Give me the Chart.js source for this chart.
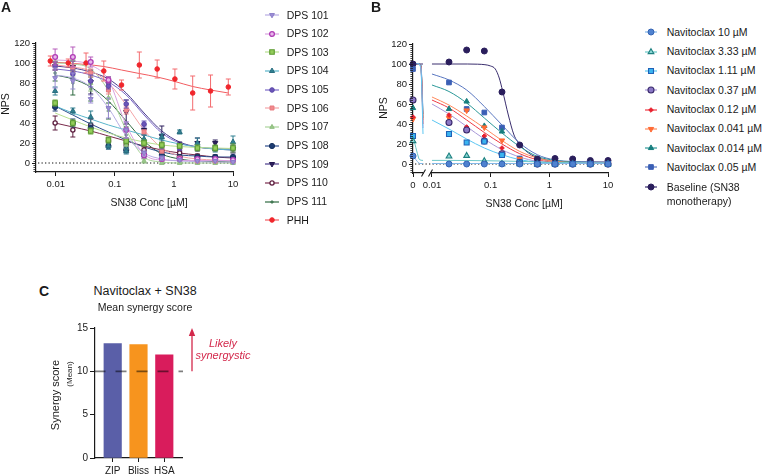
<!DOCTYPE html>
<html>
<head>
<meta charset="utf-8">
<title>SN38 / Navitoclax response</title>
<script src="https://cdn.jsdelivr.net/npm/chart.js@4.4.1/dist/chart.umd.min.js"></script>
<style>
  html, body { margin:0; padding:0; background:#fff; }
  body { width:764px; height:474px; overflow:hidden; position:relative; font-family:"Liberation Sans", Arial, Helvetica, sans-serif; color:#1a1a1a; }
  canvas.chart { position:absolute; }
  .t { position:absolute; white-space:nowrap; transform:translate(-50%,-50%); line-height:1; }
  .rot { transform:translate(-50%,-50%) rotate(-90deg); }
  .leg { position:absolute; white-space:nowrap; font-size:10.5px; line-height:13px; }
  .ico { position:absolute; }
</style>
</head>
<body>
<canvas id="chartA" class="chart" width="250" height="200" style="left:0;top:0;width:250px;height:200px"></canvas>
<canvas id="chartB" class="chart" width="260" height="200" style="left:370px;top:0;width:260px;height:200px"></canvas>
<canvas id="chartC" class="chart" width="300" height="190" style="left:0;top:300px;width:300px;height:190px"></canvas>

<div class="t" style="left:6px;top:7px;font-size:14px;font-weight:bold">A</div>
<div class="t" style="left:376px;top:7px;font-size:14px;font-weight:bold">B</div>
<div class="t" style="left:44px;top:291px;font-size:14px;font-weight:bold">C</div>

<div class="t rot" style="left:5px;top:104px;font-size:10.5px">NPS</div>
<div class="t" style="left:149px;top:202px;font-size:10.5px">SN38 Conc [µM]</div>
<div class="t rot" style="left:383px;top:108px;font-size:10.5px">NPS</div>
<div class="t" style="left:524px;top:203px;font-size:10.5px">SN38 Conc [µM]</div>

<div class="t" style="left:145px;top:291px;font-size:12.5px">Navitoclax + SN38</div>
<div class="t" style="left:145px;top:307px;font-size:10.5px">Mean synergy score</div>
<div class="t rot" style="left:55px;top:395px;font-size:11px">Synergy score</div>
<div class="t rot" style="left:70px;top:374px;font-size:8px">(Mean)</div>
<div class="t" style="left:223px;top:343px;font-size:11px;font-style:italic;color:#d3284b">Likely</div>
<div class="t" style="left:223px;top:355px;font-size:11px;font-style:italic;color:#d3284b">synergystic</div>

<div id="legendA"></div>
<div id="legendB"></div>

<script>
// ===================== DATA =====================
// ---- Panel A : SN38 dose response per sample ----
const aConc   = [0.00977, 0.0195, 0.0391, 0.0781, 0.156, 0.3125, 0.625, 1.25, 2.5, 5, 10];
const phhConc = [0.0081, 0.0163, 0.0326, 0.0651, 0.130, 0.260, 0.521, 1.04, 2.08, 4.17, 8.33];
const aNames  = ['DPS 101','DPS 102','DPS 103','DPS 104','DPS 105','DPS 106','DPS 107','DPS 108','DPS 109','DPS 110','DPS 111','PHH'];

const dps101    = [85, 82, 64, 55, 33, 10, 5, 3, 2, 2, 1];
const dps101Sd  = [10, 8, 4, 10, 8, 3, 2, 1, 1, 1, 1];
const dps101Fit = [88, 85, 76, 55, 27, 10, 4, 2, 1.5, 1, 1];

const dps102    = [106, 106, 101, 83, 33, 8, 4, 4, 4, 4, 3];
const dps102Sd  = [8, 10, 5, 3, 8, 3, 2, 1, 1, 1, 1];
const dps102Fit = [103, 102, 98, 83, 38, 9, 3, 2.5, 2.5, 2.5, 2.5];

const dps103    = [60, 40, 32, 23, 22, 20, 18, 17, 15, 15, 15];
const dps103Sd  = [3, 3, 3, 3, 3, 3, 3, 2, 3, 3, 4];
const dps103Fit = [50, 43, 36, 30, 25, 21, 18, 16.5, 15.5, 15, 14.5];

const dps104    = [72, 52, 46, 17, 12, 24, 26, 31, 20, 14, 21];
const dps104Sd  = [4, 3, 6, 3, 3, 4, 3, 2, 5, 3, 6];
const dps104Fit = [57, 50, 44, 38, 33, 28, 23, 19, 16, 14, 13];

const dps105    = [97, 89, 82, 77, 59, 39, 17, 15, 14, 14, 14];
const dps105Sd  = [4, 4, 6, 3, 4, 3, 3, 2, 2, 2, 3];
const dps105Fit = [94, 92, 88, 81, 68, 48, 30, 20, 16, 14.5, 14];

const dps106    = [97, 95, 90, 73, 53, 31, 12, 5, 2, 2, 2];
const dps106Sd  = [4, 4, 4, 4, 4, 2, 2, 1, 1, 1, 1];
const dps106Fit = [98, 96, 92, 80, 58, 33, 15, 7, 4, 3, 2];

const dps107    = [99, 95, 80, 65, 18, 2, 0, 0, 0, 0, 0];
const dps107Sd  = [3, 8, 8, 10, 4, 2, 1, 1, 1, 1, 1];
const dps107Fit = [100, 99, 94, 72, 33, 6, 1, 0, 0, 0, 0];

const dps108    = [56, 40, 35, 17, 13, 8, 8, 6, 6, 6, 6];
const dps108Sd  = [4, 4, 3, 3, 3, 3, 3, 2, 2, 2, 2];
const dps108Fit = [57, 48, 39, 31, 23, 16, 11, 8, 7, 6, 6];

const dps109    = [97, 96, 81, 79, 51, 33, 27, 17, 20, 20, 14];
const dps109Sd  = [4, 6, 12, 7, 12, 5, 10, 4, 5, 3, 4];
const dps109Fit = [97, 95, 91, 84, 70, 50, 32, 21, 16, 14, 13];

const dps110    = [40, 33, 38, 22, 18, 13, 11, 10, 7, 6, 4];
const dps110Sd  = [7, 7, 6, 3, 3, 3, 3, 2, 2, 2, 2];
const dps110Fit = [40, 36, 32, 27, 22, 17, 13, 10, 8, 6, 5];

const dps111    = [90, 80, 74, 52, 28, 10, 4, 3, 2, 2, 1];
const dps111Sd  = [8, 12, 12, 8, 8, 3, 2, 1, 1, 1, 1];
const dps111Fit = [88, 84, 76, 62, 42, 22, 9, 4, 2, 1.5, 1];

const phh    = [102, 100, 100, 92, 78, 98, 94, 84, 70, 72, 76];
const phhSd  = [5, 4, 10, 10, 5, 13, 9, 10, 17, 16, 8];
const phhFit = [101, 100, 98.5, 96.5, 93, 89.5, 86, 81.5, 76.5, 73, 70];

// ---- Panel B : SN38 + navitoclax ----
const bConc      = [0.0195, 0.039, 0.078, 0.156, 0.3125, 0.625, 1.25, 2.5, 5, 10];
const bFitConc   = [0.01, 0.0195, 0.039, 0.078, 0.156, 0.3125, 0.625, 1.25, 2.5, 5, 10];
const baseFitConc= [0.01, 0.02, 0.04, 0.06, 0.08, 0.1, 0.12, 0.14, 0.16, 0.2, 0.25, 0.32, 0.4, 0.5, 0.65, 1.25, 2.5, 5, 10];
const zeroSegX   = [0, 0.6, 0.8, 1];      // positions along the "0" axis segment
const bNames = ['Navitoclax 10 µM','Navitoclax 3.33 µM','Navitoclax 1.11 µM','Navitoclax 0.37 µM','Navitoclax 0.12 µM','Navitoclax 0.041 µM','Navitoclax 0.014 µM','Navitoclax 0.05 µM','Baseline (SN38|monotherapy)'];

const nav10Zero = 8,   nav10 = [0, 0, 0, 0, 0, 0, 0, 0, 0, 0];
const nav10Fit = [0.5, 0.5, 0.5, 0.5, 0.5, 0.5, 0.5, 0.5, 0.5, 0.5, 0.5], nav10ZeroFit = [8, 0.8, 0.5, 0.5];
const nav333Zero = 23, nav333 = [7.7, 8.3, 3, 0, 0, 0, 0, 0, 0, 0];
const nav333Fit = [3.6, 3.6, 3.5, 3.3, 3, 2.6, 2.1, 1.6, 1.2, 1, 1], nav333ZeroFit = [28, 5, 3.8, 3.6];
const nav111Zero = 28, nav111 = [30, 21.5, 22.5, 9, 1.5, 0, 0, 0, 0, 0];
const nav111Fit = [44, 35, 25, 16, 9.3, 4.3, 2, 1.2, 1, 1, 1], nav111ZeroFit = [100, 100, 94, 30];
const nav037Zero = 64, nav037 = [41.5, 34, 23, 10.3, 1.5, 0, 0, 0, 0, 0];
const nav037Fit = [60, 50, 37.5, 25, 14.3, 7, 2.6, 1.2, 1, 1, 1], nav037ZeroFit = [100, 100, 96, 36];
const nav012Zero = 47, nav012 = [49, 37, 28, 16, 0.5, 0, 0, 0, 0, 0];
const nav012Fit = [64, 56, 44, 31.5, 20, 10.3, 4.3, 1.6, 1.2, 1, 1], nav012ZeroFit = [100, 100, 97, 40];
const nav0041Zero = 45, nav0041 = [46, 53.5, 36.5, 23.5, 5, 0, 0, 0, 0, 0];
const nav0041Fit = [67, 59, 48, 36, 23.5, 12.6, 6, 2.6, 1.5, 1.2, 1], nav0041ZeroFit = [100, 100, 97, 44];
const nav0014Zero = 56, nav0014 = [55, 62.5, 38, 32.5, 4.3, 0.3, 0.3, 0.3, 0.3, 0.3];
const nav0014Fit = [79, 72.5, 61, 46, 31, 17.5, 7.6, 3.6, 2, 1.5, 1.2], nav0014ZeroFit = [100, 100, 98, 46];
const nav005Zero = 95, nav005 = [81.5, 55, 51.5, 36.5, 5.5, 0, 0, 0, 0, 0];
const nav005Fit = [90, 84, 74, 57.5, 39, 21, 9.3, 4, 2.5, 2, 1.5], nav005ZeroFit = [100, 100, 99, 50];
const baseZero = 100,  baseline = [102, 114, 113, 72, 19, 5, 5.5, 5, 3.5, 3.5];
const baseFit = [100, 100, 100, 99.8, 99.3, 98, 95, 86, 73, 49, 29, 19, 13, 9, 6, 2.6, 2, 2, 2], baseZeroFit = [100, 100, 100, 100];

// ---- Panel C : mean synergy scores ----
const cMethods = ['ZIP', 'Bliss', 'HSA'];
const cScores  = [13.2, 13.1, 11.9];
const cThreshold = 10;

// ---- tick labels ----
const npsTicks = [0, 20, 40, 60, 80, 100, 120];
const logTicks = [0.01, 0.1, 1, 10];
const logTickLabels = ['0.01', '0.1', '1', '10'];
const zeroTickLabel = '0';
const cYTicks = [0, 5, 10, 15];

// ===================== STYLES =====================
const aStyles = [
  {ps:'triangle', rot:180, bg:'#9d8fd6', bd:'#8a7cc8', bw:1, r:2.8, line:'#b7ace3', err:'#9d8fd6'},
  {ps:'circle', bg:'#e8b8ec', bd:'#b03cb5', bw:1.3, r:2.4, line:'#d9a2df', err:'#b65cbb'},
  {ps:'rect', bg:'#93cc5a', bd:'#5c9a30', bw:1.1, r:3.2, line:'#b8e090', err:'#6aa63c'},
  {ps:'triangle', bg:'#2f7f90', bd:'#2a6e80', bw:1, r:3, line:'#5ab6cc', err:'#2f7f90'},
  {ps:'circle', bg:'#6b55b8', bd:'#5a46a8', bw:1, r:2.3, line:'#7b68c8', err:'#6b55b8'},
  {ps:'rect', bg:'#f08a8e', bd:'#e87a7e', bw:1, r:2.8, line:'#f3a3a6', err:'#f08a8e'},
  {ps:'triangle', bg:'#9cc98c', bd:'#8cbc7c', bw:1, r:2.6, line:'#a9d49a', err:'#8cbc7c'},
  {ps:'circle', bg:'#1d3c72', bd:'#14305e', bw:1, r:2.6, line:'#2c4c8c', err:'#1d3c72'},
  {ps:'triangle', rot:180, bg:'#2c1f5c', bd:'#241850', bw:1, r:3, line:'#4a3c8c', err:'#2c1f5c'},
  {ps:'circle', bg:'#ffffff', bd:'#5c1d3e', bw:1.3, r:2.1, line:'#7a2a4c', err:'#5c1d3e'},
  {ps:'cross', bg:'#2e6a40', bd:'#2e6a40', bw:1, r:1.8, line:'#2e6a40', err:'#2e6a40'},
  {ps:'circle', bg:'#f0262c', bd:'#f0262c', bw:1, r:2.3, line:'#f25c60', err:'#f36a6e'}
];
const bStyles = [
  {ps:'circle', bg:'#4f82d0', bd:'#3464b4', bw:1, r:3, line:'#84b8e8'},
  {ps:'triangle', bg:'#8fd8d6', bd:'#1d8080', bw:1.1, r:3.3, line:'#6cc8c8'},
  {ps:'rect', bg:'#3ab4f0', bd:'#2062b8', bw:1.1, r:3.5, line:'#5cc6f2'},
  {ps:'circle', bg:'#8a78c6', bd:'#3a2a6c', bw:1.1, r:3, line:'#a898d8'},
  {ps:'rectRot', bg:'#e8202e', bd:'#e8202e', bw:1, r:2.3, line:'#ee3a44'},
  {ps:'triangle', rot:180, bg:'#ff6b35', bd:'#ff6b35', bw:1, r:3.1, line:'#ff8a5c'},
  {ps:'triangle', bg:'#177e7e', bd:'#177e7e', bw:1, r:3.1, line:'#2a9898'},
  {ps:'rect', bg:'#3b5fb5', bd:'#3b5fb5', bw:1, r:3.3, line:'#5876c0'},
  {ps:'circle', bg:'#2a1e5c', bd:'#2a1e5c', bw:1, r:3, line:'#3a2e6e'}
];
const cColors = ['#5a5fa8', '#f7941e', '#d91c5c'];
const INK = '#1a1a1a';

// ===================== SETUP =====================
Chart.defaults.font.family = '"Liberation Sans", Arial, Helvetica, sans-serif';
Chart.defaults.color = INK;
Chart.defaults.animation = false;

const pairs = (xs, ys) => ys.map((v, i) => ({x: xs[i], y: v}));

const errorBars = {
  id: 'errorBars',
  beforeDatasetDraw(chart, args) {
    const ds = chart.data.datasets[args.index];
    if (!ds.errors) return;
    const ys = chart.scales[args.meta.yAxisID];
    const ctx = chart.ctx;
    ctx.save();
    ctx.strokeStyle = ds.errorColor; ctx.lineWidth = 1;
    args.meta.data.forEach((pt, i) => {
      const e = ds.errors[i]; if (!e) return;
      const v = ds.data[i].y;
      const y1 = ys.getPixelForValue(v + e), y2 = ys.getPixelForValue(v - e);
      ctx.beginPath();
      ctx.moveTo(pt.x, y1); ctx.lineTo(pt.x, y2);
      ctx.moveTo(pt.x - 2.5, y1); ctx.lineTo(pt.x + 2.5, y1);
      ctx.moveTo(pt.x - 2.5, y2); ctx.lineTo(pt.x + 2.5, y2);
      ctx.stroke();
    });
    ctx.restore();
  }
};
const zeroLine = {
  id: 'zeroLine',
  beforeDatasetsDraw(chart) {
    const y = chart.scales.y.getPixelForValue(0);
    const {left, right} = chart.chartArea;
    const ctx = chart.ctx;
    ctx.save(); ctx.setLineDash([1.3, 2.2]); ctx.strokeStyle = '#111'; ctx.lineWidth = 1.2;
    ctx.beginPath(); ctx.moveTo(left + 2, y); ctx.lineTo(right, y); ctx.stroke();
    ctx.restore();
  }
};
const minorTicks = {
  id: 'minorTicks',
  afterDraw(chart) {
    const s = chart.scales.y, ctx = chart.ctx, x = chart.chartArea.left;
    ctx.save(); ctx.strokeStyle = INK; ctx.lineWidth = 0.8;
    ctx.beginPath();
    for (let v = -8; v <= 120; v += 2) {
      const y = Math.round(s.getPixelForValue(v)) + 0.5;
      ctx.moveTo(x - 2.6, y); ctx.lineTo(x, y);
    }
    ctx.stroke(); ctx.restore();
  }
};
const axisBreak = {
  id: 'axisBreak',
  afterDraw(chart) {
    const x0 = chart.scales.x0, xs = chart.scales.x, ctx = chart.ctx;
    const y = chart.chartArea.bottom;
    const g1 = x0.right + 0.5, g2 = xs.left + 7.5;
    ctx.save();
    ctx.fillStyle = '#fff'; ctx.fillRect(g1, y - 2, g2 - g1, 4);
    ctx.strokeStyle = INK; ctx.lineWidth = 1.1;
    ctx.beginPath();
    ctx.moveTo(g1 - 2, y + 3.5); ctx.lineTo(g1 + 2, y - 3.5);
    ctx.moveTo(g2 - 2, y + 3.5); ctx.lineTo(g2 + 2, y - 3.5);
    ctx.stroke(); ctx.restore();
  }
};
const threshold = {
  id: 'threshold',
  afterDatasetsDraw(chart) {
    const ys = chart.scales.y, ctx = chart.ctx, {left, right} = chart.chartArea;
    const y = ys.getPixelForValue(cThreshold);
    ctx.save();
    ctx.strokeStyle = 'rgba(0,0,0,0.5)'; ctx.lineWidth = 1.6;
    ctx.setLineDash([11, 10]); ctx.lineDashOffset = 16.5;
    ctx.beginPath(); ctx.moveTo(left - 5, y); ctx.lineTo(right + 1, y); ctx.stroke();
    ctx.setLineDash([]);
    // arrow towards higher (synergistic) scores
    const ax = right + 10, yTop = ys.getPixelForValue(15);
    ctx.strokeStyle = '#d3284b'; ctx.fillStyle = '#d3284b'; ctx.lineWidth = 1.3;
    ctx.beginPath(); ctx.moveTo(ax, y); ctx.lineTo(ax, yTop + 6); ctx.stroke();
    ctx.beginPath(); ctx.moveTo(ax, yTop); ctx.lineTo(ax - 3.2, yTop + 8); ctx.lineTo(ax + 3.2, yTop + 8); ctx.closePath(); ctx.fill();
    ctx.restore();
  }
};

const gridOpts = (len) => ({display:true, drawOnChartArea:false, drawTicks:true, tickLength:len, color:INK, lineWidth:1});
const borderOpts = {display:true, color:INK, width:1.2};

function npsAxis(width) {
  return {
    type:'linear', min:-9, max:120,
    afterBuildTicks: s => { s.ticks = npsTicks.map(v => ({value:v})); s.min = -9; s.max = 120; },
    afterFit: s => { s.width = width; s.paddingTop = 0; s.paddingBottom = 0; },
    grid: gridOpts(4), border: borderOpts,
    ticks: {font:{size:9.5}, color:INK, padding:2, autoSkip:false}
  };
}
function logAxis(min, height, extra) {
  return Object.assign({
    type:'logarithmic', position:'bottom', min:min, max:10,
    afterBuildTicks: s => { s.ticks = logTicks.map(v => ({value:v})); },
    afterFit: s => { s.height = height; s.paddingLeft = 0; s.paddingRight = 0; },
    grid: gridOpts(4), border: borderOpts,
    ticks: {callback:(v, i) => logTickLabels[i], autoSkip:false, maxRotation:0, font:{size:9.5}, color:INK, padding:3}
  }, extra || {});
}

function pointDs(label, data, st, extra) {
  return Object.assign({
    label, data, showLine:false, order:0, clip:false,
    pointStyle:st.ps, pointRotation:st.rot || 0, pointRadius:st.r,
    pointBackgroundColor:st.bg, pointBorderColor:st.bd, pointBorderWidth:st.bw,
    borderColor:st.line, backgroundColor:st.bg
  }, extra || {});
}
function fitDs(data, color, extra) {
  return Object.assign({
    data, showLine:true, order:1, pointRadius:0, borderColor:color, borderWidth:1,
    cubicInterpolationMode:'monotone', fill:false, clip:false
  }, extra || {});
}

// ===================== PANEL A =====================
const aMeans = [dps101, dps102, dps103, dps104, dps105, dps106, dps107, dps108, dps109, dps110, dps111, phh];
const aSds   = [dps101Sd, dps102Sd, dps103Sd, dps104Sd, dps105Sd, dps106Sd, dps107Sd, dps108Sd, dps109Sd, dps110Sd, dps111Sd, phhSd];
const aFits  = [dps101Fit, dps102Fit, dps103Fit, dps104Fit, dps105Fit, dps106Fit, dps107Fit, dps108Fit, dps109Fit, dps110Fit, dps111Fit, phhFit];
const aDatasets = [];
aNames.forEach((name, i) => {
  const xs = name === 'PHH' ? phhConc : aConc;
  const st = aStyles[i];
  aDatasets.push(pointDs(name, pairs(xs, aMeans[i]), st, {errors:aSds[i], errorColor:st.err}));
  aDatasets.push(fitDs(pairs(xs, aFits[i]), st.line));
});

new Chart(document.getElementById('chartA'), {
  type:'line',
  data:{datasets:aDatasets},
  options:{
    responsive:false, devicePixelRatio:1,
    layout:{padding:{left:0, top:43, right:17, bottom:0}},
    plugins:{legend:{display:false}, tooltip:{enabled:false}},
    scales:{ x: logAxis(0.00464, 28), y: npsAxis(36) }
  },
  plugins:[zeroLine, errorBars, minorTicks]
});

// ===================== PANEL B =====================
const bZero  = [nav10Zero, nav333Zero, nav111Zero, nav037Zero, nav012Zero, nav0041Zero, nav0014Zero, nav005Zero, baseZero];
const bMeans = [nav10, nav333, nav111, nav037, nav012, nav0041, nav0014, nav005, baseline];
const bFits  = [nav10Fit, nav333Fit, nav111Fit, nav037Fit, nav012Fit, nav0041Fit, nav0014Fit, nav005Fit, baseFit];
const bZeroFits = [nav10ZeroFit, nav333ZeroFit, nav111ZeroFit, nav037ZeroFit, nav012ZeroFit, nav0041ZeroFit, nav0014ZeroFit, nav005ZeroFit, baseZeroFit];
const bDatasets = [];
bNames.forEach((name, i) => {
  const st = bStyles[i];
  const fitX = i === 8 ? baseFitConc : bFitConc;
  bDatasets.push(pointDs(name, pairs(bConc, bMeans[i]), st, {xAxisID:'x'}));
  bDatasets.push(pointDs(name, [{x:0, y:bZero[i]}], st, {xAxisID:'x0'}));
  bDatasets.push(fitDs(pairs(fitX, bFits[i]), st.line, {xAxisID:'x'}));
  bDatasets.push(fitDs(pairs(zeroSegX, bZeroFits[i]), st.line, {xAxisID:'x0', cubicInterpolationMode:'default', tension:0.3}));
});

new Chart(document.getElementById('chartB'), {
  type:'line',
  data:{datasets:bDatasets},
  options:{
    responsive:false, devicePixelRatio:1,
    layout:{padding:{left:0, top:44, right:22, bottom:0}},
    plugins:{legend:{display:false}, tooltip:{enabled:false}},
    scales:{
      x0:{
        type:'linear', position:'bottom', stack:'bx', stackWeight:10, min:0, max:1,
        afterBuildTicks: s => { s.ticks = [{value:0}]; },
        afterFit: s => { s.height = 27; s.paddingLeft = 0; s.paddingRight = 0; },
        grid: gridOpts(4), border: borderOpts,
        ticks:{callback:() => zeroTickLabel, autoSkip:false, maxRotation:0, font:{size:9.5}, color:INK, padding:3}
      },
      x: logAxis(0.00703, 27, {stack:'bx', stackWeight:185}),
      y: npsAxis(43)
    }
  },
  plugins:[zeroLine, minorTicks, axisBreak]
});

// ===================== PANEL C =====================
new Chart(document.getElementById('chartC'), {
  type:'bar',
  data:{datasets:[{
    data: cMethods.map((m, i) => ({x:i, y:cScores[i]})),
    backgroundColor: cColors, borderWidth:0, barThickness:17.5
  }]},
  options:{
    responsive:false, devicePixelRatio:1,
    layout:{padding:{left:0, top:28, right:118, bottom:0}},
    plugins:{legend:{display:false}, tooltip:{enabled:false}},
    scales:{
      x:{
        type:'linear', min:-0.686, max:2.686, offset:false,
        afterBuildTicks: s => { s.ticks = cMethods.map((m, i) => ({value:i})); },
        afterFit: s => { s.height = 32; s.paddingLeft = 0; s.paddingRight = 0; },
        grid: Object.assign(gridOpts(4), {offset:false}), border: borderOpts,
        ticks:{callback:(v, i) => cMethods[i], autoSkip:false, maxRotation:0, font:{size:10}, color:INK, padding:3}
      },
      y:{
        type:'linear', min:0, max:15,
        afterBuildTicks: s => { s.ticks = cYTicks.map(v => ({value:v})); },
        afterFit: s => { s.width = 95; s.paddingTop = 0; s.paddingBottom = 0; },
        grid: gridOpts(5), border: borderOpts,
        ticks:{font:{size:10}, color:INK, padding:2, autoSkip:false}
      }
    }
  },
  plugins:[threshold]
});

// ===================== HTML LEGENDS =====================
function drawMarker(ctx, st, x, y) {
  ctx.fillStyle = st.bg; ctx.strokeStyle = st.bd; ctx.lineWidth = st.bw;
  if (Chart.helpers && Chart.helpers.drawPoint) {
    Chart.helpers.drawPoint(ctx, {pointStyle:st.ps, radius:st.r, rotation:st.rot || 0, borderWidth:st.bw}, x, y);
  } else {
    ctx.beginPath(); ctx.arc(x, y, st.r, 0, Math.PI * 2); ctx.fill(); ctx.stroke();
  }
}
function buildLegend(el, names, styles, o) {
  names.forEach((name, i) => {
    const st = styles[i];
    const cy = o.y0 + o.dy * i;
    const cv = document.createElement('canvas');
    cv.width = o.w; cv.height = 12; cv.className = 'ico';
    cv.style.left = (o.iconX - o.w / 2) + 'px'; cv.style.top = (cy - 6) + 'px';
    const ctx = cv.getContext('2d');
    ctx.strokeStyle = st.line; ctx.lineWidth = 1.2;
    ctx.beginPath(); ctx.moveTo(0, 6); ctx.lineTo(o.w, 6); ctx.stroke();
    drawMarker(ctx, st, o.w / 2, 6);
    el.appendChild(cv);
    const t = document.createElement('div');
    t.className = 'leg';
    const lines = name.split('|');
    if (lines.length > 1) t.style.lineHeight = '14px';
    t.style.left = o.textX + 'px';
    t.style.top = (cy - (lines.length > 1 ? 7 : 6.5)) + 'px';
    lines.forEach((ln, k) => { if (k) t.appendChild(document.createElement('br')); t.appendChild(document.createTextNode(ln)); });
    el.appendChild(t);
  });
}
buildLegend(document.getElementById('legendA'), aNames, aStyles, {y0:15, dy:18.65, iconX:271.7, textX:286.7, w:14});
buildLegend(document.getElementById('legendB'), bNames, bStyles, {y0:32.3, dy:19.3, iconX:651, textX:666.7, w:12});
</script>
</body>
</html>
